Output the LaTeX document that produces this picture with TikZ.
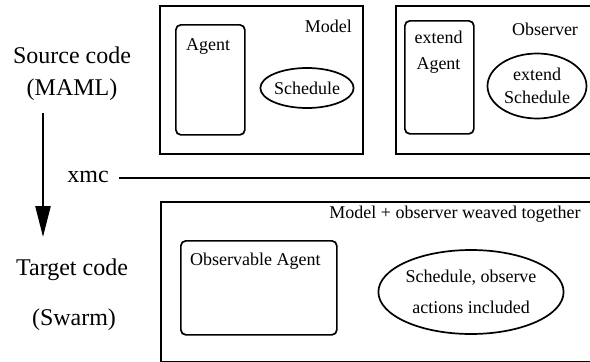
\documentclass[tikz,border=0pt]{standalone}
\usepackage{fontspec}
\setmainfont{Liberation Serif}
\usetikzlibrary{arrows.meta,positioning,shapes.geometric,calc}

\begin{document}
\begin{tikzpicture}[x=1pt,y=-1pt,
  frame/.style={draw,line width=2pt,inner sep=0pt,anchor=north west},
  part/.style={draw,line width=1.7pt,rounded corners=5pt,inner sep=0pt,anchor=north west},
  sched/.style={draw,ellipse,line width=1.7pt,inner sep=0pt,align=center,font=\fontsize{18}{23}\selectfont},
  lbl/.style={font=\fontsize{18}{26}\selectfont,inner sep=0pt,align=center},
  big/.style={font=\fontsize{24}{28}\selectfont,inner sep=0pt,anchor=base},
  flow/.style={-{Triangle[length=31pt,width=15pt]},line width=2.5pt},
  sep/.style={line width=2pt}
]
  \clip (0,0) rectangle (590,362);

  % source side
  \node[frame,minimum width=203pt,minimum height=148pt] (model) at (159,5) {};
  \node[lbl,anchor=base east] (modeltxt) at (352,32) {Model};
  \node[part,minimum width=69pt,minimum height=110pt] (agent) at (175,24) {};
  \node[lbl,anchor=base west] (agenttxt) at (186,50) {Agent};
  \node[sched,minimum width=91pt,minimum height=40pt] (schedule) at (307,88) {Schedule};

  \node[frame,minimum width=215pt,minimum height=148pt] (observer) at (395,5) {};
  \node[lbl,anchor=base] (observertxt) at (545,35) {Observer};
  \node[part,minimum width=69pt,minimum height=113pt] (extagent) at (404,20) {};
  \node[lbl,anchor=north] (extagenttxt) at (438.5,31) {extend\\Agent};
  \node[sched,minimum width=99pt,minimum height=65pt] (extsched) at (537,86) {extend\\Schedule};

  % compiler
  \node[big] (xmc) at (88,182) {xmc};
  \coordinate (xmcend) at (600,178);
  \draw[sep] ([xshift=10pt]xmc.east |- xmcend) -- (xmcend);

  % target side
  \node[frame,minimum width=450pt,minimum height=160pt] (woven) at (160,201) {};
  \node[lbl,anchor=base] (woventxt) at (455,218) {Model + observer weaved together};
  \node[part,minimum width=156pt,minimum height=94pt] (obsagent) at (180,240) {};
  \node[lbl,anchor=base west] (obsagenttxt) at (190,265) {Observable Agent};
  \node[sched,minimum width=172pt,minimum height=84pt,font=\fontsize{18}{31}\selectfont] (obssched) at (471,292) {Schedule, observe\\actions included};

  % left labels
  \node[big] (src) at (72,63) {Source code};
  \node[big] (maml) at (72,95) {(MAML)};
  \node[big] (tgt) at (72,275) {Target code};
  \node[big] (swarm) at (74,325) {(Swarm)};
  \coordinate (down0) at (43,113);
  \coordinate (down1) at (43,237);
  \draw[flow] (down0) -- (down1);
\end{tikzpicture}
\end{document}
